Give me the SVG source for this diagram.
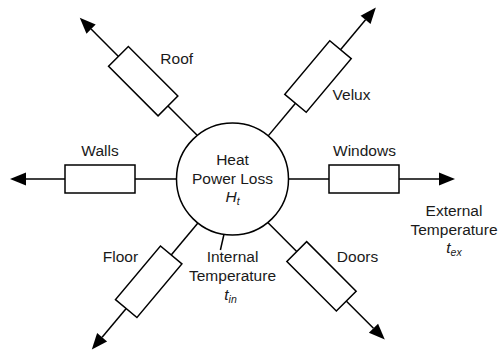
<svg xmlns="http://www.w3.org/2000/svg" width="498" height="353" viewBox="0 0 498 353">
<style>
.ln{stroke:#000;stroke-width:1.5;fill:none}
.res{fill:#fff;stroke:#000;stroke-width:1.5}
.t{font-family:"Liberation Sans",Arial,sans-serif;font-size:15.5px;fill:#1a1a1a;text-anchor:middle}
.i{font-style:italic}
.s{font-size:10.5px;font-style:italic}
</style>
<defs>
<marker id="arr" markerUnits="userSpaceOnUse" markerWidth="16" markerHeight="13" refX="0" refY="6.5" orient="auto" viewBox="0 0 16 13" overflow="visible">
<path d="M0,0 L16,6.5 L0,13 z" fill="#000"/>
</marker>
</defs>
<rect width="498" height="353" fill="#fff"/>
<g id="connectors">
<line class="ln" x1="176.5" y1="179" x2="135" y2="179"/>
<line class="ln" x1="65" y1="179" x2="26" y2="179" marker-end="url(#arr)"/>
<line class="ln" x1="288.5" y1="179" x2="329" y2="179"/>
<line class="ln" x1="399" y1="179" x2="439" y2="179" marker-end="url(#arr)"/>
<g transform="translate(143.2,81.2) rotate(225)">
<line class="ln" x1="-76" y1="0" x2="-35" y2="0"/>
<line class="ln" x1="35" y1="0" x2="73.7" y2="0" marker-end="url(#arr)"/>
</g>
<g transform="translate(318,76.5) rotate(-50)">
<line class="ln" x1="-77.5" y1="0" x2="-35" y2="0"/>
<line class="ln" x1="35" y1="0" x2="74" y2="0" marker-end="url(#arr)"/>
</g>
<g transform="translate(148.7,281.75) rotate(130)">
<line class="ln" x1="-76.6" y1="0" x2="-35" y2="0"/>
<line class="ln" x1="35" y1="0" x2="72.5" y2="0" marker-end="url(#arr)"/>
</g>
<g transform="translate(321.5,276.3) rotate(45)">
<line class="ln" x1="-76" y1="0" x2="-35" y2="0"/>
<line class="ln" x1="35" y1="0" x2="73.5" y2="0" marker-end="url(#arr)"/>
</g>
<line class="ln" x1="228.6" y1="214" x2="220.4" y2="250"/>
</g>
<g id="heat">
<circle cx="232.5" cy="179" r="56" fill="#fff" stroke="#000" stroke-width="1.5"/>
<text class="t" x="232.5" y="165">Heat</text>
<text class="t" x="232.5" y="183.5">Power Loss</text>
<text class="t" x="232.5" y="201.5"><tspan class="i">H</tspan><tspan class="s" dy="3">t</tspan></text>
</g>
<g id="walls">
<rect class="res" x="65" y="165" width="70" height="28"/>
<text class="t" x="100" y="156">Walls</text>
</g>
<g id="windows">
<rect class="res" x="329" y="165" width="70" height="28"/>
<text class="t" x="364.5" y="156">Windows</text>
</g>
<g id="roof">
<rect class="res" x="-35" y="-14" width="70" height="28" transform="translate(143.2,81.2) rotate(225)"/>
<text class="t" x="176.7" y="64">Roof</text>
</g>
<g id="velux">
<rect class="res" x="-35" y="-14" width="70" height="28" transform="translate(318,76.5) rotate(-50)"/>
<text class="t" x="351.5" y="100">Velux</text>
</g>
<g id="floor">
<rect class="res" x="-35" y="-14" width="70" height="28" transform="translate(148.7,281.75) rotate(130)"/>
<text class="t" x="120.5" y="261.7">Floor</text>
</g>
<g id="doors">
<rect class="res" x="-35" y="-14" width="70" height="28" transform="translate(321.5,276.3) rotate(45)"/>
<text class="t" x="357.5" y="261.7">Doors</text>
</g>
<g id="internal">
<text class="t" x="232.5" y="261.7">Internal</text>
<text class="t" x="232.5" y="281">Temperature</text>
<text class="t" x="230.5" y="300"><tspan class="i">t</tspan><tspan class="s" dy="3">in</tspan></text>
</g>
<g id="external">
<text class="t" x="454" y="216">External</text>
<text class="t" x="454" y="235">Temperature</text>
<text class="t" x="454" y="253.3"><tspan class="i">t</tspan><tspan class="s" dy="3">ex</tspan></text>
</g>
</svg>
